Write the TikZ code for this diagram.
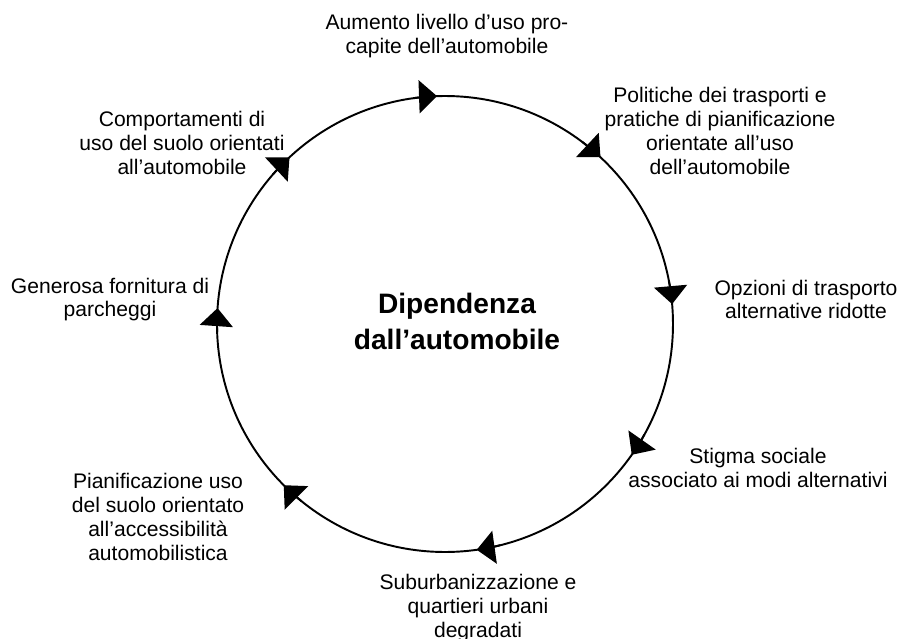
\documentclass[tikz,border=0pt]{standalone}
\usepackage{fontspec}
\setmainfont{Liberation Sans}
\usetikzlibrary{arrows.meta}

\begin{document}
\begin{tikzpicture}[>={Triangle[width=0.66cm,length=0.36cm]}, line width=1.1pt,
  lbl/.style={align=center, inner sep=0pt, font=\fontsize{12}{13.6}\selectfont}]
\useasboundingbox (-8.9,-6.3) rectangle (9.1,6.48);

% cycle
\coordinate (c) at (0,0);
\draw (c) circle (4.56);
\foreach \a in {92,47,5,-35,-82,-135,176,133}
  \draw[->] ([shift={(\a+6:4.56)}]c) arc[start angle=\a+6, end angle=\a, radius=4.56];

% centre
\node[align=center, inner sep=0pt, font=\bfseries\fontsize{16}{20}\selectfont] (dip) at (0.24,0.05) {Dipendenza\\dall’automobile};

% labels (right)
\node[lbl] (aumento) at (0.04,5.76) {Aumento livello d’uso pro-\\capite dell’automobile};
\node[lbl] (politiche) at (5.5,3.86) {Politiche dei trasporti e\\pratiche di pianificazione\\orientate all’uso\\dell’automobile};
\node[lbl] (opzioni) at (7.22,0.49) {Opzioni di trasporto\\alternative ridotte};
\node[lbl] (stigma) at (6.26,-2.88) {Stigma sociale\\associato ai modi alternativi};

% labels (left)
\node[lbl] (suburb) at (0.66,-5.68) {Suburbanizzazione e\\quartieri urbani\\degradati};
\node[lbl] (pianif) at (-5.74,-3.86) {Pianificazione uso\\del suolo orientato\\all’accessibilità\\automobilistica};
\node[lbl] (generosa) at (-6.7,0.49) {Generosa fornitura di\\parcheggi};
\node[lbl] (comport) at (-5.26,3.62) {Comportamenti di\\uso del suolo orientati\\all’automobile};
\end{tikzpicture}
\end{document}
